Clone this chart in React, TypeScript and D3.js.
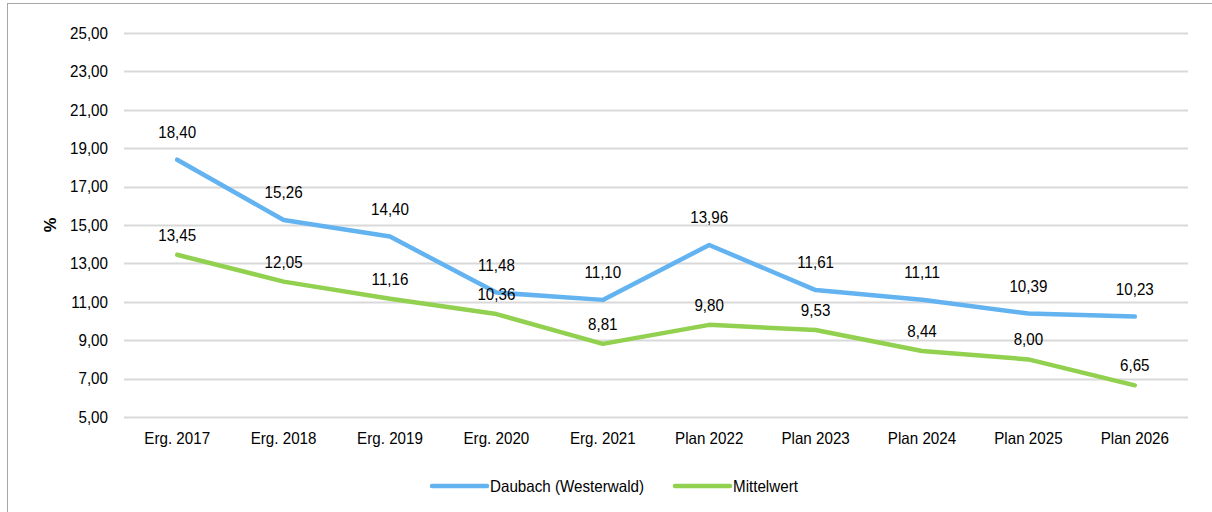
import { useEffect, useRef } from "react";
import * as d3 from "d3";

const categories = ["Erg. 2017", "Erg. 2018", "Erg. 2019", "Erg. 2020", "Erg. 2021", "Plan 2022", "Plan 2023", "Plan 2024", "Plan 2025", "Plan 2026"];
const daubach = [18.40, 15.26, 14.40, 11.48, 11.10, 13.96, 11.61, 11.11, 10.39, 10.23];
const mittelwert = [13.45, 12.05, 11.16, 10.36, 8.81, 9.80, 9.53, 8.44, 8.00, 6.65];
const yTicks = [5, 7, 9, 11, 13, 15, 17, 19, 21, 23, 25];

const W = 1212;
const H = 512;
const M = { top: 33, right: 24, bottom: 95, left: 124 };
const FONT = "'Liberation Sans', Arial, sans-serif";
const FS = 16.5;
const SX = 0.92; // squeeze text a little, the original uses a narrow face

const series = [
  { name: "Daubach (Westerwald)", values: daubach, color: "#63B3F1", labelDy: -22 },
  { name: "Mittelwert", values: mittelwert, color: "#92D050", labelDy: -14 },
];

const fmt = (v: number) => v.toFixed(2).replace(".", ",");

export default function App() {
  const ref = useRef<SVGSVGElement | null>(null);

  useEffect(() => {
    if (!ref.current) return;
    const svg = d3.select(ref.current);
    svg.selectAll("*").remove();

    const iW = W - M.left - M.right;
    const iH = H - M.top - M.bottom;

    // chart frame
    svg.append("rect").attr("x", 7.5).attr("y", 3.5).attr("width", 1210).attr("height", 520)
      .attr("fill", "#fff").attr("stroke", "#A6A6A6").attr("stroke-width", 1);

    const g = svg.append("g").attr("transform", `translate(${M.left},${M.top})`);

    const x = d3.scaleBand().domain(categories).range([0, iW]);
    const y = d3.scaleLinear().domain([5, 25]).range([iH, 0]);

    const label = (sel: any, tx: (d: any, i: number) => number, ty: (d: any, i: number) => number) =>
      sel.attr("transform", (d: any, i: number) => `translate(${tx(d, i)},${ty(d, i)}) scale(${SX},1)`)
        .attr("font-family", FONT).attr("font-size", FS).attr("fill", "#000");

    // gridlines
    g.selectAll("line.grid").data(yTicks).join("line")
      .attr("class", "grid")
      .attr("x1", 0).attr("x2", iW)
      .attr("y1", d => Math.round(y(d)) + 0.5).attr("y2", d => Math.round(y(d)) + 0.5)
      .attr("stroke", "#D9D9D9").attr("stroke-width", 2);

    // y tick labels
    label(g.selectAll("text.ytick").data(yTicks).join("text").attr("class", "ytick"),
      () => -16, d => y(d))
      .attr("dy", "0.35em").attr("text-anchor", "end")
      .text((d: number) => fmt(d));

    // x labels
    label(g.selectAll("text.xtick").data(categories).join("text").attr("class", "xtick"),
      d => (x(d) ?? 0) + x.bandwidth() / 2, () => iH + 21)
      .attr("dy", "0.35em").attr("text-anchor", "middle")
      .text((d: string) => d);

    // y axis title
    svg.append("text")
      .attr("transform", `translate(56,${M.top + y(15)}) rotate(-90)`)
      .attr("text-anchor", "middle")
      .attr("font-family", FONT).attr("font-size", FS).attr("font-weight", "bold")
      .text("%");

    const cx = (i: number) => (x(categories[i]) ?? 0) + x.bandwidth() / 2;

    const line = d3.line<number>()
      .x((_, i) => cx(i))
      .y(d => y(d));

    series.forEach(s => {
      g.append("path").datum(s.values)
        .attr("fill", "none")
        .attr("stroke", s.color)
        .attr("stroke-width", 4.5)
        .attr("stroke-linecap", "round")
        .attr("stroke-linejoin", "round")
        .attr("d", line);
    });

    series.forEach(s => {
      label(g.selectAll(null).data(s.values).join("text"),
        (_, i) => cx(i), d => y(d) + s.labelDy)
        .attr("text-anchor", "middle")
        .text((d: number) => fmt(d));
    });

    // legend
    const legendX = [432, 675];
    series.forEach((s, i) => {
      const lg = svg.append("g").attr("transform", `translate(${legendX[i]},486)`);
      lg.append("line").attr("x1", 0).attr("x2", 55).attr("y1", 0).attr("y2", 0)
        .attr("stroke", s.color).attr("stroke-width", 4.5).attr("stroke-linecap", "round");
      lg.append("text").attr("transform", `translate(58,0) scale(${SX},1)`).attr("dy", "0.35em")
        .attr("font-family", FONT).attr("font-size", FS).attr("fill", "#000")
        .text(s.name);
    });
  }, []);

  return (
    <svg ref={ref} width={W} height={H}
      style={{ position: "absolute", left: 0, top: 0, display: "block" }} />
  );
}
